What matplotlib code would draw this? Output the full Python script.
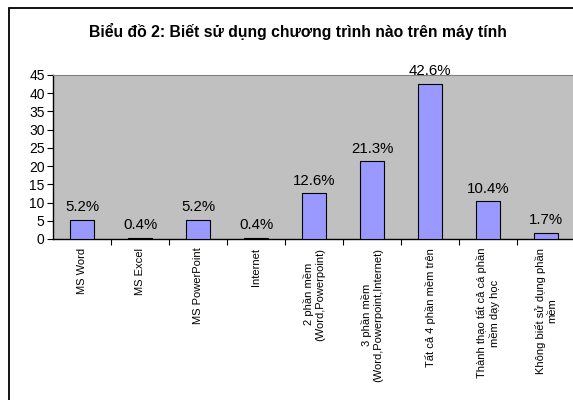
import matplotlib.pyplot as plt
from matplotlib.patches import Rectangle

plt.rcParams['font.family'] = ['Liberation Sans', 'DejaVu Sans']

categories = [
    "MS Word",
    "MS Excel",
    "MS PowerPoint",
    "Internet",
    "2 phần mềm\n(Word,Powerpoint)",
    "3 phần mềm\n(Word,Powerpoint,Internet)",
    "Tất cả 4 phần mềm trên",
    "Thành thạo tất cả cá phần\nmềm dạy học",
    "Không biết sử dụng phần\nmềm",
]
values = [5.2, 0.4, 5.2, 0.4, 12.6, 21.3, 42.6, 10.4, 1.7]
value_labels = ["5.2%", "0.4%", "5.2%", "0.4%", "12.6%", "21.3%", "42.6%", "10.4%", "1.7%"]

fig = plt.figure(figsize=(5.73, 4.0), dpi=100)
ax = fig.add_axes([53 / 573, 1 - 239 / 400, 522 / 573, 164 / 400])

# outer chart border
fig.patches.append(Rectangle((9 / 573, -0.1), 1.2, 1 - 8 / 400 + 0.1,
                             transform=fig.transFigure, fill=False,
                             edgecolor="black", linewidth=1.3))

x = range(len(values))
ax.bar(x, values, width=0.41, color="#9999FF", edgecolor="black", linewidth=0.8, zorder=3)

for i, (v, lab) in enumerate(zip(values, value_labels)):
    ax.annotate(lab, (i, v), xytext=(0, 4), textcoords="offset points",
                ha="center", va="bottom", fontsize=10.8)

ax.set_facecolor("#C0C0C0")
ax.set_xlim(-0.5, len(values) - 0.5)
ax.set_ylim(0, 45)
ax.set_yticks(range(0, 46, 5))
ax.tick_params(axis="y", labelsize=10, length=4, width=0.8, pad=2)

ax.set_xticks([i + 0.5 for i in range(len(values) - 1)], minor=False)
ax.set_xticklabels([])
ax.tick_params(axis="x", length=4, width=0.8, direction="out")
for i, c in enumerate(categories):
    ax.text(i, -2.4, c, rotation=90, ha="center", va="top", fontsize=8,
            multialignment="center")

ax.spines["top"].set_color("#808080")
ax.spines["right"].set_visible(False)
ax.spines["left"].set_linewidth(1)
ax.spines["bottom"].set_linewidth(1)

fig.text(298 / 573, 1 - 31 / 400, "Biểu đồ 2: Biết sử dụng chương trình nào trên máy tính",
         ha="center", va="center", fontsize=11.3, fontweight="bold")

fig.savefig("out.png", dpi=100)
